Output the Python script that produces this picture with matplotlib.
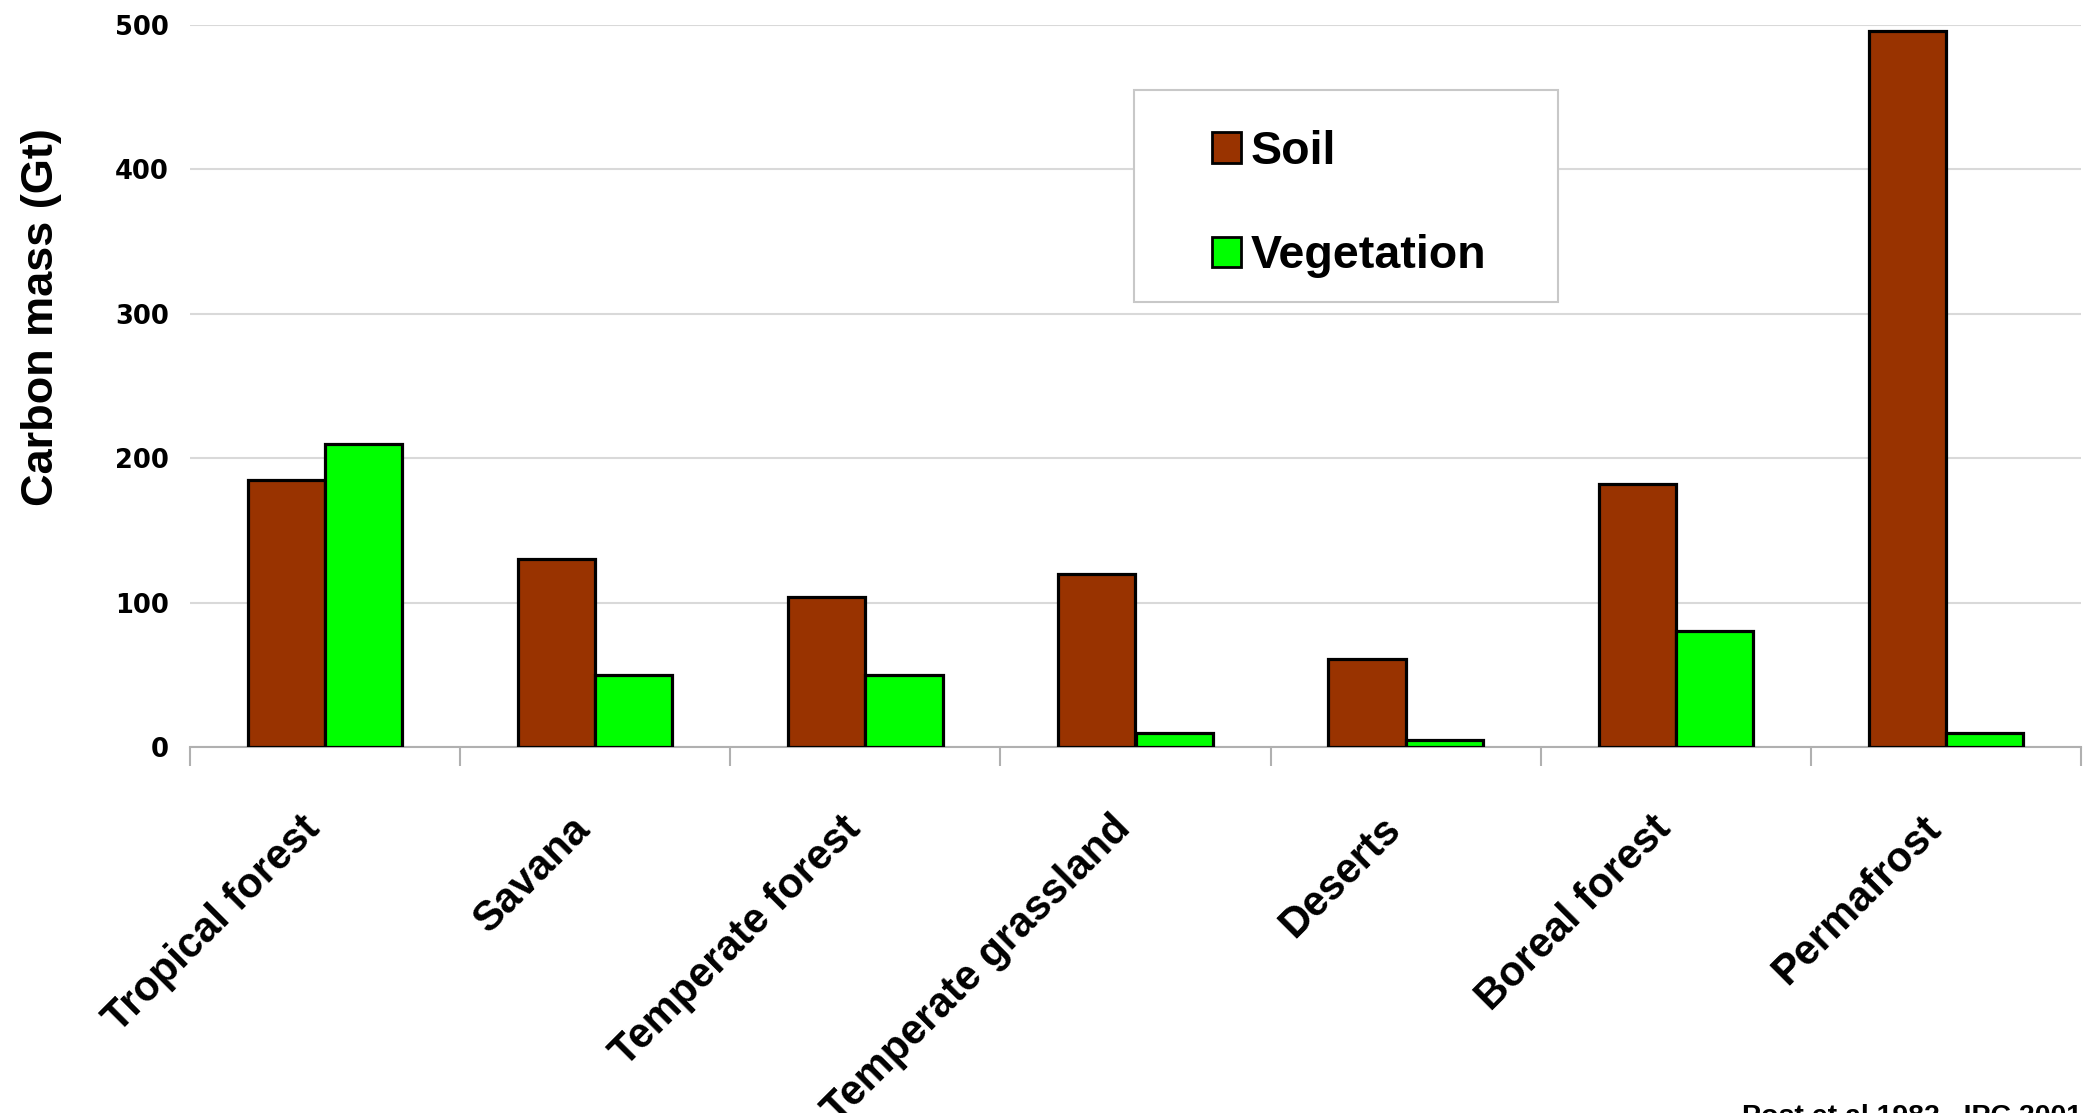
import matplotlib
matplotlib.use('Agg')
import matplotlib.pyplot as plt
import matplotlib.transforms as mtransforms
import numpy as np
from matplotlib.patches import Rectangle, Patch

# data
categories = ['Tropical forest', 'Savana', 'Temperate forest', 'Temperate grassland',
              'Deserts', 'Boreal forest', 'Permafrost']
soil = [185, 130, 104, 120, 61, 182, 496]
vegetation = [210, 50, 50, 10, 5, 80, 10]
y_ticks = [0, 100, 200, 300, 400, 500]

soil_color = '#993300'
veg_color = '#00ff00'
grid_color = '#d9d9d9'

fig = plt.figure(figsize=(20.84, 11.13), dpi=100)
ax = fig.add_axes([190/2084, 1 - 747/1113, 1891/2084, 722/1113])

x = np.arange(len(categories))
w = 0.286
ax.bar(x - w/2, soil, width=w, color=soil_color, edgecolor='black', linewidth=2.3, zorder=3)
ax.bar(x + w/2, vegetation, width=w, color=veg_color, edgecolor='black', linewidth=2.3, zorder=3)

ax.set_xlim(-0.5, len(categories) - 0.5)
ax.set_ylim(0, 500)

# gridlines and axis
ax.set_yticks(y_ticks)
ax.yaxis.grid(True, color=grid_color, linewidth=1.5, zorder=0)
ax.tick_params(axis='y', length=0, pad=15)
for lbl in ax.get_yticklabels():
    lbl.set_fontfamily('DejaVu Sans')
    lbl.set_fontweight('bold')
    lbl.set_fontsize(18.5)

for s in ['top', 'right', 'left']:
    ax.spines[s].set_visible(False)
ax.spines['bottom'].set_color('#b0b0b0')
ax.spines['bottom'].set_linewidth(1.5)

# tick marks at category boundaries, labels at centers
ax.set_xticks(np.arange(-0.5, len(categories)), minor=True)
ax.tick_params(axis='x', which='minor', length=14, color='#b0b0b0', width=1.5)
ax.set_xticks(x)
ax.set_xticklabels(categories, rotation=45, ha='right', rotation_mode='anchor',
                   fontfamily='Liberation Sans', fontweight='bold', fontsize=30)
ax.tick_params(axis='x', which='major', length=0, pad=40)
shift = mtransforms.ScaledTranslation(-0.25, -0.06, fig.dpi_scale_trans)
for lbl in ax.get_xticklabels():
    lbl.set_transform(lbl.get_transform() + shift)

# y label
fig.text(42/2084, 1 - 317/1113, 'Carbon mass (Gt)', rotation=90, ha='center', va='center',
         fontfamily='Liberation Sans', fontweight='bold', fontsize=32.5)

# legend box
box = Rectangle((1134/2084, 1 - 302/1113), 424/2084, 212/1113, transform=fig.transFigure,
                facecolor='white', edgecolor='#c8c8c8', linewidth=1.5, zorder=5)
fig.patches.append(box)
handles = [Patch(facecolor=soil_color, edgecolor='black', linewidth=2),
           Patch(facecolor=veg_color, edgecolor='black', linewidth=2)]
leg = fig.legend(handles, ['Soil', 'Vegetation'], loc='center',
                 bbox_to_anchor=(1349/2084, 1 - 204/1113), frameon=False,
                 prop={'family': 'Liberation Sans', 'weight': 'bold', 'size': 33.5},
                 handlelength=0.63, handleheight=0.63, handletextpad=0.2,
                 labelspacing=1.3)
leg.set_zorder(6)

# source note (cut off at the bottom edge as in the reference)
fig.text(1742/2084, 1 - 1104/1113, 'Post et al 1982 , IPC 2001', ha='left', va='top',
         fontfamily='Liberation Sans', fontweight='bold', fontsize=20.5)

fig.savefig('out.png', dpi=100)
